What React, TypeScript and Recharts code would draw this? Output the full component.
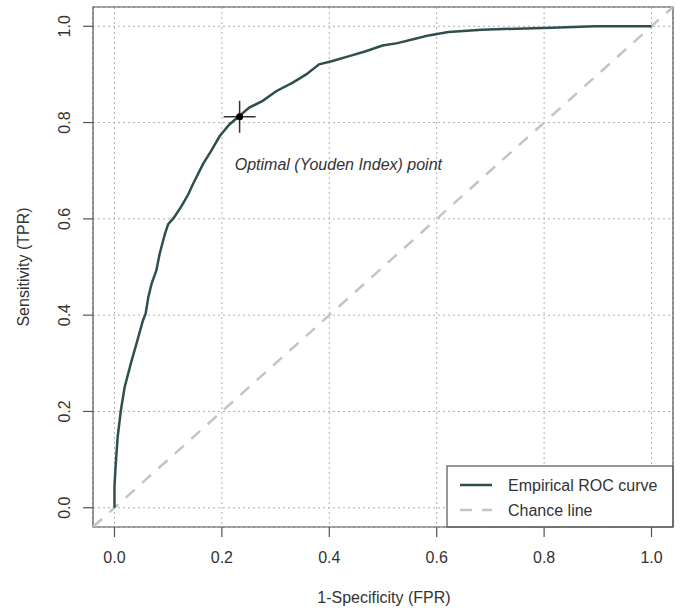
import React from 'react';
import {
  LineChart,
  Line,
  XAxis,
  YAxis,
  CartesianGrid,
  ReferenceArea,
  ReferenceDot,
  Customized,
} from 'recharts';

// empirical ROC curve
const fprValues = [
  0, 0, 0.002, 0.006, 0.012, 0.019, 0.032, 0.041, 0.053, 0.058, 0.063, 0.069, 0.078, 0.084,
  0.094, 0.1, 0.111, 0.125, 0.137, 0.146, 0.165, 0.18, 0.196, 0.214, 0.233, 0.251, 0.276,
  0.301, 0.332, 0.357, 0.381, 0.406, 0.437, 0.468, 0.499, 0.527, 0.56, 0.585, 0.622, 0.684,
  0.75, 0.814, 0.895, 1.0,
];
const tprValues = [
  0, 0.044, 0.085, 0.148, 0.203, 0.251, 0.306, 0.341, 0.389, 0.403, 0.437, 0.465, 0.493, 0.527,
  0.569, 0.589, 0.603, 0.627, 0.65, 0.672, 0.714, 0.741, 0.772, 0.796, 0.814, 0.831, 0.845,
  0.865, 0.883, 0.9, 0.921, 0.928, 0.938, 0.948, 0.96, 0.965, 0.974, 0.981, 0.988, 0.993,
  0.995, 0.997, 1.0, 1.0,
];

// chance line spans the whole plotting region
const chanceValues = [-0.04, 1.04];

const axisTicks = [0, 0.2, 0.4, 0.6, 0.8, 1.0];
const tickLabels = ['0.0', '0.2', '0.4', '0.6', '0.8', '1.0'];
const axisDomain = [-0.04, 1.04];

const youdenPoint = { fpr: 0.233, tpr: 0.812 };
const annotation = { fpr: 0.224, tpr: 0.701, text: 'Optimal (Youden Index) point' };

const legendLabels = ['Empirical ROC curve', 'Chance line'];

const rocData = fprValues.map((x, i) => ({ x, y: tprValues[i] }));
const chanceData = chanceValues.map((v) => ({ x: v, y: v }));

const FONT = '"Liberation Sans", Arial, sans-serif';
const ROC_COLOR = '#2f4f4f';
const CHANCE_COLOR = '#c4c4c4';
const TEXT_COLOR = '#333';

const labelFor = (v: number) => tickLabels[axisTicks.indexOf(v)] ?? v.toFixed(1);

const XTick = (props: any) => {
  const { x, y, payload } = props;
  return (
    <text x={x} y={y} dy={24} textAnchor="middle" fontSize={16} fontFamily={FONT} fill={TEXT_COLOR}>
      {labelFor(payload.value)}
    </text>
  );
};

const YTick = (props: any) => {
  const { x, y, payload } = props;
  const bx = x - 11;
  return (
    <text
      x={bx}
      y={y}
      transform={`rotate(-90, ${bx}, ${y})`}
      textAnchor="middle"
      fontSize={16}
      fontFamily={FONT}
      fill={TEXT_COLOR}
    >
      {labelFor(payload.value)}
    </text>
  );
};

const YoudenMark = (props: any) => {
  const { cx, cy } = props;
  return (
    <g>
      <line x1={cx - 16} y1={cy} x2={cx + 16} y2={cy} stroke="#333" strokeWidth={1.5} />
      <line x1={cx} y1={cy - 16} x2={cx} y2={cy + 16} stroke="#333" strokeWidth={1.5} />
      <circle cx={cx} cy={cy} r={3.5} fill="#000" />
    </g>
  );
};

const AnnotationText = (props: any) => {
  const { cx, cy } = props;
  return (
    <text x={cx} y={cy} fontSize={16} fontStyle="italic" fontFamily={FONT} fill={TEXT_COLOR}>
      {annotation.text}
    </text>
  );
};

const Titles = () => (
  <g fontFamily={FONT} fontSize={16} fill={TEXT_COLOR}>
    <text x={384} y={603} textAnchor="middle">
      1-Specificity (FPR)
    </text>
    <text x={29} y={267} textAnchor="middle" transform="rotate(-90, 29, 267)">
      Sensitivity (TPR)
    </text>
  </g>
);

const LegendBox = () => (
  <g fontFamily={FONT} fontSize={16} fill={TEXT_COLOR}>
    <rect x={447} y={466} width={226} height={61} fill="#fff" stroke="#555" strokeWidth={1.2} />
    <line x1={460} y1={485} x2={492} y2={485} stroke={ROC_COLOR} strokeWidth={2.5} />
    <line
      x1={460}
      y1={510}
      x2={492}
      y2={510}
      stroke={CHANCE_COLOR}
      strokeWidth={2.5}
      strokeDasharray="12 10"
    />
    <text x={508} y={491}>{legendLabels[0]}</text>
    <text x={508} y={516}>{legendLabels[1]}</text>
  </g>
);

export default function App() {
  return (
    <div style={{ position: 'fixed', left: 0, top: 0, background: '#fff' }}>
      <LineChart width={682} height={612} margin={{ top: 7, right: 9, bottom: 0, left: 0 }}>
        <CartesianGrid stroke="#b0b0b0" strokeDasharray="2 3" />
        <XAxis
          type="number"
          dataKey="x"
          domain={axisDomain}
          ticks={axisTicks}
          allowDataOverflow
          height={85}
          axisLine={false}
          tickSize={10}
          tickLine={{ stroke: '#555', strokeWidth: 1.2 }}
          tick={<XTick />}
        />
        <YAxis
          type="number"
          dataKey="y"
          domain={axisDomain}
          ticks={axisTicks}
          allowDataOverflow
          width={93}
          axisLine={false}
          tickSize={10}
          tickLine={{ stroke: '#555', strokeWidth: 1.2 }}
          tick={<YTick />}
        />
        <Line
          data={chanceData}
          dataKey="y"
          type="linear"
          stroke={CHANCE_COLOR}
          strokeWidth={2.5}
          strokeDasharray="12 10"
          dot={false}
          activeDot={false}
          isAnimationActive={false}
        />
        <Line
          data={rocData}
          dataKey="y"
          type="linear"
          stroke={ROC_COLOR}
          strokeWidth={2.5}
          dot={false}
          activeDot={false}
          isAnimationActive={false}
        />
        <ReferenceArea
          x1={axisDomain[0]}
          x2={axisDomain[1]}
          y1={axisDomain[0]}
          y2={axisDomain[1]}
          fill="none"
          fillOpacity={0}
          stroke="#555"
          strokeWidth={1.2}
          ifOverflow="visible"
        />
        <ReferenceDot x={youdenPoint.fpr} y={youdenPoint.tpr} shape={<YoudenMark />} ifOverflow="visible" />
        <ReferenceDot x={annotation.fpr} y={annotation.tpr} shape={<AnnotationText />} ifOverflow="visible" />
        <Customized component={<Titles />} />
        <Customized component={<LegendBox />} />
      </LineChart>
    </div>
  );
}
